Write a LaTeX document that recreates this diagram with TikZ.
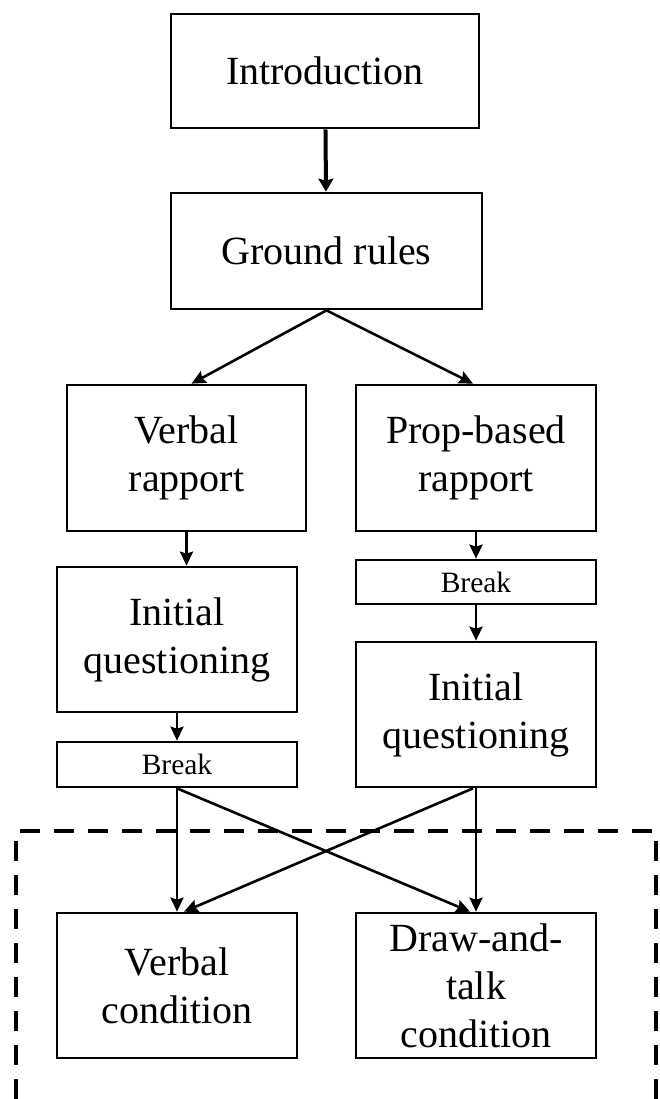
\documentclass[tikz,border=0pt]{standalone}
\usepackage{fontspec}
\setmainfont{Liberation Serif}
\usetikzlibrary{arrows.meta}

\tikzstyle{stage} = [rectangle, draw=black, line width=2.7pt, minimum width=240pt, minimum height=145pt, inner sep=0pt, align=center, font=\fontsize{40}{48}\selectfont]
\tikzstyle{breakbox} = [stage, minimum height=45pt, font=\fontsize{29.5}{35}\selectfont]
\tikzstyle{arrow} = [line width=2.6pt,-{Stealth[length=14pt,width=13pt,inset=2pt]}]
\tikzstyle{frame} = [line width=4pt, dash pattern=on 20pt off 14pt]

\begin{document}
\begin{tikzpicture}

\useasboundingbox (0pt,0pt) rectangle (660pt,-1099pt);

\node (intro) [stage, minimum width=308pt, minimum height=114pt, xshift = 325pt, yshift = -71pt] {Introduction};
\node (ground) [stage, minimum width=311pt, minimum height=116pt, xshift = 326.5pt, yshift = -251pt] {Ground rules};
\node (verbrap) [stage, minimum width=239pt, minimum height=146pt, xshift = 186.5pt, yshift = -458pt] {Verbal\\rapport};
\node (proprap) [stage, minimum height=146pt, xshift = 476pt, yshift = -458pt] {Prop-based\\rapport};
\node (propbreak) [breakbox, minimum height=44pt, xshift = 476pt, yshift = -582pt] {Break};
\node (verbquest) [stage, xshift = 177pt, yshift = -639.5pt] {Initial\\questioning};
\node (propquest) [stage, xshift = 476pt, yshift = -714.5pt] {Initial\\questioning};
\node (verbbreak) [breakbox, xshift = 177pt, yshift = -764.5pt] {Break};
\node (verbcond) [stage, xshift = 177pt, yshift = -985.5pt] {Verbal\\condition};
\node (drawcond) [stage, xshift = 476pt, yshift = -985.5pt] {Draw-and-\\talk\\condition};

% dashed frame round the two conditions (open at the bottom edge)
\draw [frame] (16pt,-1099pt) -- (16pt,-831pt) -- (656pt,-831pt) -- (656pt,-1099pt);

\draw [arrow, line width=4pt, -{Stealth[length=13pt,width=15pt,inset=2pt]}] (intro) -- (ground);
\draw [arrow] (ground.south) -- ([xshift=5pt]verbrap.north);
\draw [arrow] (ground.south) -- ([xshift=-3pt]proprap.north);
\draw [arrow] (verbrap.south) -- (verbrap.south |- verbquest.north);
\draw [arrow] (verbquest) -- (verbbreak);
\draw [arrow] (proprap.south) -- (propbreak.north);
\draw [arrow] (propbreak) -- (propquest);
\draw [arrow] (verbbreak.south) -- (verbcond.north);
\draw [arrow] (verbbreak.south) -- ([xshift=-6pt]drawcond.north);
\draw [arrow] (propquest.south) -- (drawcond.north);
\draw [arrow] ([xshift=-3pt]propquest.south) -- ([xshift=7pt]verbcond.north);

\end{tikzpicture}
\end{document}
